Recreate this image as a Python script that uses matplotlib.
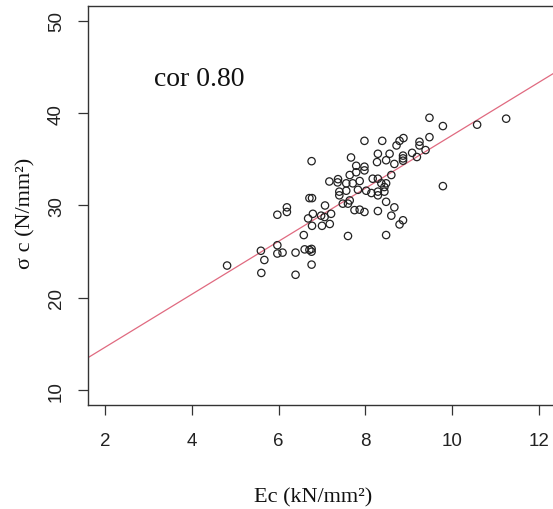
import numpy as np
import matplotlib.pyplot as plt

# Ec (kN/mm2) and sigma c (N/mm2)
ec = [4.81, 5.59, 5.67, 5.60, 5.97, 6.19, 6.19, 5.97, 5.97, 6.09,
      6.39, 6.39, 6.58, 6.60, 6.76, 6.76, 6.71, 6.76, 6.76, 6.71,
      6.77, 6.68, 6.79, 6.98, 7.07, 7.06, 7.21, 6.77, 7.00, 7.18,
      7.60,
      7.17, 7.37, 7.36, 7.40, 7.40, 7.56, 7.64, 7.79, 7.67, 7.79,
      7.98, 7.98, 7.98, 7.71, 7.87, 8.17, 8.37, 8.48, 7.56, 7.83,
      8.02, 8.14, 8.29, 8.29, 8.44, 7.64, 7.60, 7.48, 7.75, 7.87,
      7.98, 8.48, 8.29, 8.67, 8.60, 8.87, 8.79, 8.48, 8.29, 8.27,
      8.48, 8.67, 8.56, 8.60, 8.39, 8.29, 8.44,
      8.72, 8.79, 8.88, 9.25, 9.25, 9.48, 9.48, 9.79, 10.58, 11.25,
      9.08, 9.19, 9.39, 8.87, 8.87, 8.87, 9.79]
sigma = [23.5, 25.1, 24.1, 22.7, 29.0, 29.8, 29.3, 25.7, 24.8, 24.9,
         24.9, 22.5, 26.8, 25.25, 25.3, 25.0, 25.2, 23.6, 34.8, 30.8,
         30.8, 28.6, 29.1, 28.9, 30.0, 28.75, 29.1, 27.8, 27.8, 28.0,
         26.7,
         32.6, 32.85, 32.5, 31.5, 31.1, 32.4, 33.3, 33.6, 35.2, 34.3,
         37.0, 34.2, 33.8, 32.4, 32.65, 32.9, 32.4, 32.4, 31.6, 31.7,
         31.6, 31.35, 31.5, 31.1, 31.5, 30.55, 30.2, 30.2, 29.5, 29.55,
         29.3, 30.4, 29.4, 29.8, 28.9, 28.4, 27.95, 26.8, 35.6, 34.7,
         34.9, 34.5, 35.6, 33.3, 37.0, 32.9, 32.0,
         36.5, 37.0, 37.3, 36.9, 36.5, 37.4, 39.5, 38.6, 38.75, 39.4,
         35.7, 35.25, 36.0, 35.4, 35.1, 34.85, 32.1]

# fitted line
intercept = 8.94
slope = 2.865
cor_text = "cor 0.80"

xticks = [2, 4, 6, 8, 10, 12]
yticks = [10, 20, 30, 40, 50]

fig = plt.figure(figsize=(5.53, 5.10), dpi=100)
ax = fig.add_axes([0.1591, 0.2039, 0.8463, 0.7824])

ax.scatter(ec, sigma, s=28, facecolors="none", edgecolors="#222222", linewidths=0.9, zorder=3)
ax.axline((0, intercept), slope=slope, color="#E06A80", lw=0.9, zorder=2)

ax.set_xlim(1.6, 12.4)
ax.set_ylim(8.4, 51.6)
ax.set_xticks(xticks)
ax.set_yticks(yticks)
ax.set_xticklabels([str(t) for t in xticks], family="Liberation Sans", fontsize=13.5, color="#222222")
ax.set_yticklabels([str(t) for t in yticks], family="Liberation Sans", fontsize=13.5, color="#222222",
                   rotation=90, va="center")
ax.tick_params(axis="x", length=7.5, width=0.9, pad=12, color="#333333")
ax.tick_params(axis="y", length=7.5, width=0.9, pad=9, color="#333333")
for sp in ax.spines.values():
    sp.set_color("#333333")
    sp.set_linewidth(1.0)

ax.text(3.13, 43.7, cor_text, family="Liberation Serif", fontsize=20, ha="left", va="center", color="#111111")

ax.set_xlabel("Ec (kN/mm²)", family="Liberation Serif", fontsize=16, va="center", color="#111111")
ax.xaxis.set_label_coords(0.481, -0.2306)
ax.set_ylabel("σ c (N/mm²)", family="Liberation Serif", fontsize=16, va="center", color="#111111")
ax.yaxis.set_label_coords(-0.133, 0.484)

fig.savefig("out.png", dpi=100)
